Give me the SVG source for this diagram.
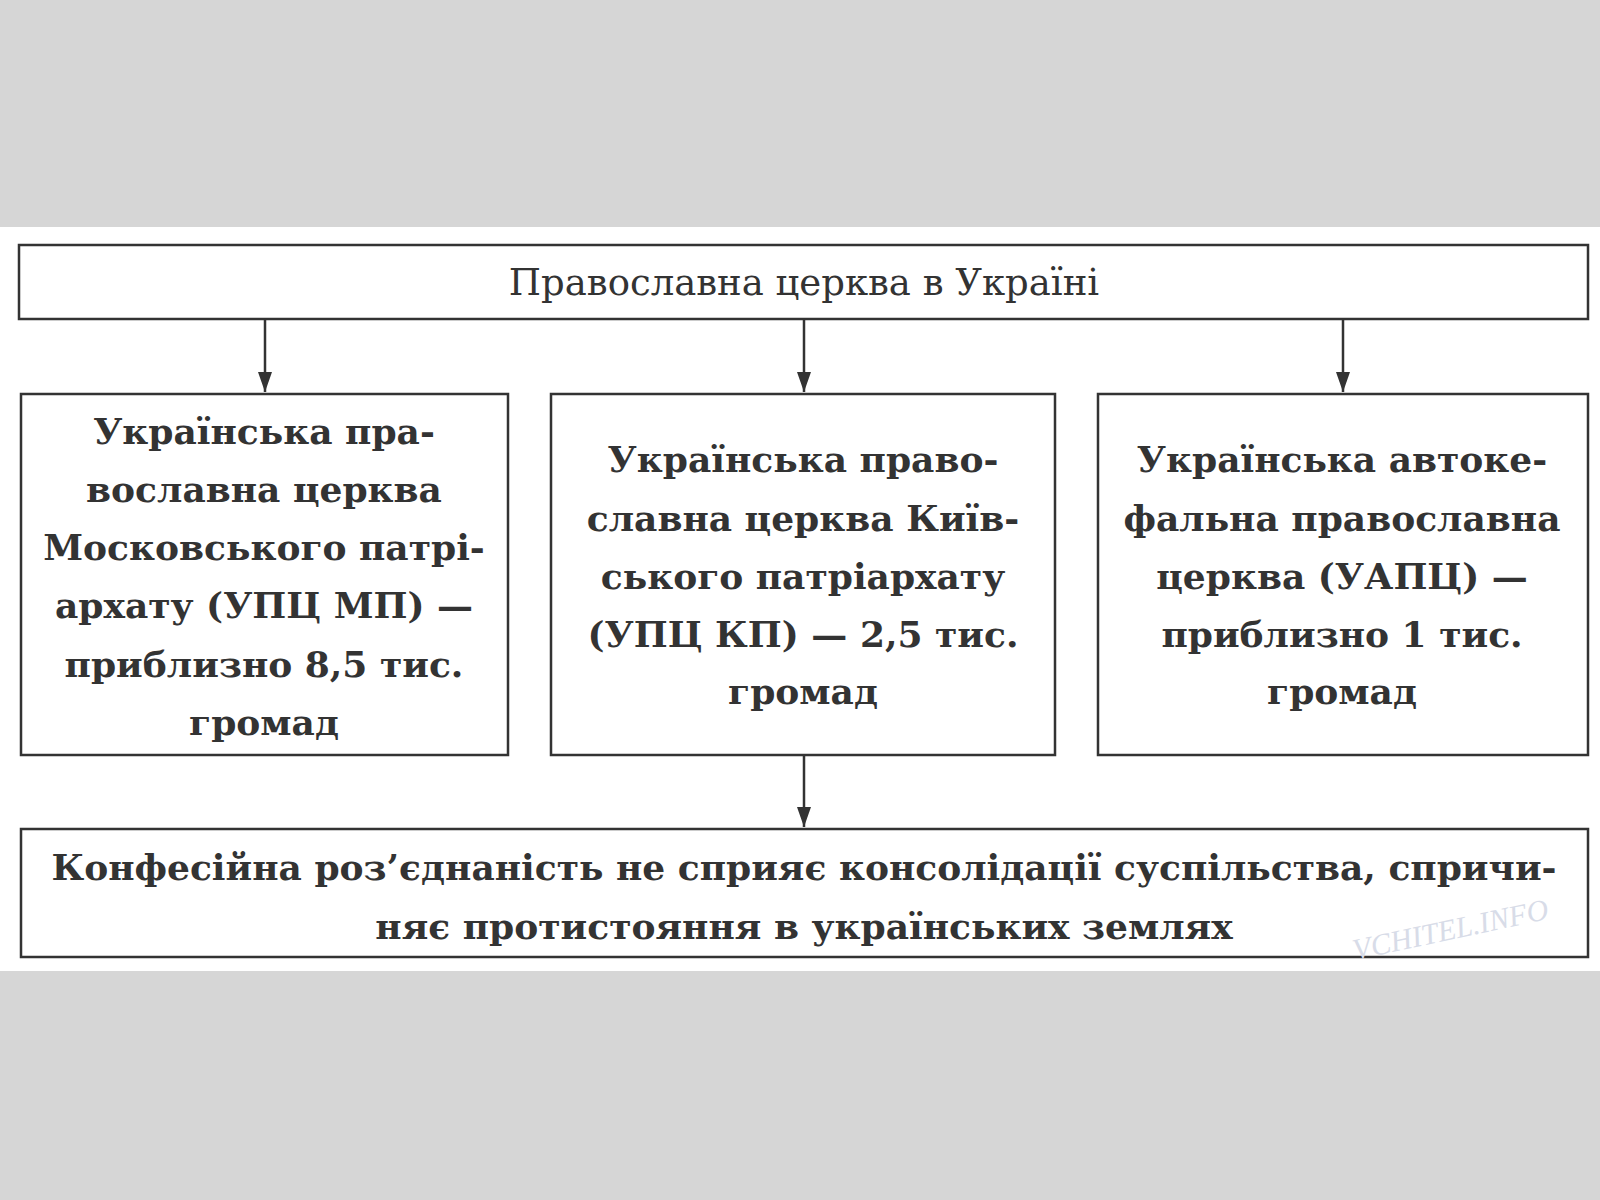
<svg xmlns="http://www.w3.org/2000/svg" width="1600" height="1200" viewBox="0 0 1600 1200">
<style>
.b{fill:#fff;stroke:#333;stroke-width:2.5}
.t{font-family:"DejaVu Serif","Liberation Serif",serif;font-size:36px;font-weight:bold;fill:#333;text-anchor:middle}
.h{font-family:"DejaVu Serif","Liberation Serif",serif;font-size:37px;fill:#333;text-anchor:middle}
.c{stroke:#333;stroke-width:2.5;fill:none}
</style>
<defs>
<marker id="m" viewBox="0 0 10 10" refX="10" refY="5" markerWidth="20" markerHeight="20" markerUnits="userSpaceOnUse" orient="auto"><path d="M0,1.5L10,5L0,8.5z" fill="#333"/></marker></defs>
<rect width="1600" height="1200" fill="#d6d6d6"/>
<rect x="0" y="227" width="1600" height="744" fill="#fff"/>
<g id="connectors">
<line class="c" x1="265" y1="319" x2="265" y2="392" marker-end="url(#m)"/>
<line class="c" x1="804" y1="319" x2="804" y2="392" marker-end="url(#m)"/>
<line class="c" x1="1343" y1="319" x2="1343" y2="392" marker-end="url(#m)"/>
<line class="c" x1="804" y1="755" x2="804" y2="827" marker-end="url(#m)"/>
</g>
<g id="top"><rect class="b" x="19" y="245" width="1569" height="74"/><text class="h" x="804" y="295">Православна церква в Україні</text></g>
<g id="n1"><rect class="b" x="21" y="394" width="487" height="361"/>
<text class="t" x="264"><tspan x="264" y="444">Українська пра-</tspan><tspan x="264" y="502">вославна церква</tspan><tspan x="264" y="560">Московського патрі-</tspan><tspan x="264" y="618">архату (УПЦ МП) —</tspan><tspan x="264" y="677">приблизно 8,5 тис.</tspan><tspan x="264" y="735">громад</tspan></text></g>
<g id="n2"><rect class="b" x="551" y="394" width="504" height="361"/>
<text class="t" x="803"><tspan x="803" y="472">Українська право-</tspan><tspan x="803" y="531">славна церква Київ-</tspan><tspan x="803" y="589">ського патріархату</tspan><tspan x="803" y="647">(УПЦ КП) — 2,5 тис.</tspan><tspan x="803" y="704">громад</tspan></text></g>
<g id="n3"><rect class="b" x="1098" y="394" width="490" height="361"/>
<text class="t" x="1342"><tspan x="1342" y="472">Українська автоке-</tspan><tspan x="1342" y="531">фальна православна</tspan><tspan x="1342" y="589">церква (УАПЦ) —</tspan><tspan x="1342" y="647">приблизно 1 тис.</tspan><tspan x="1342" y="704">громад</tspan></text></g>
<g id="bottom"><rect class="b" x="21" y="829" width="1567" height="128"/>
<text class="t" x="804"><tspan x="804" y="880">Конфесійна роз’єднаність не сприяє консолідації суспільства, спричи-</tspan><tspan x="804" y="939">няє протистояння в українських землях</tspan></text></g>
<text x="1355" y="960" transform="rotate(-12 1355 960)" font-family="Liberation Serif,serif" font-style="italic" font-size="30" fill="#d8dce8">VCHITEL.INFO</text>
</svg>
